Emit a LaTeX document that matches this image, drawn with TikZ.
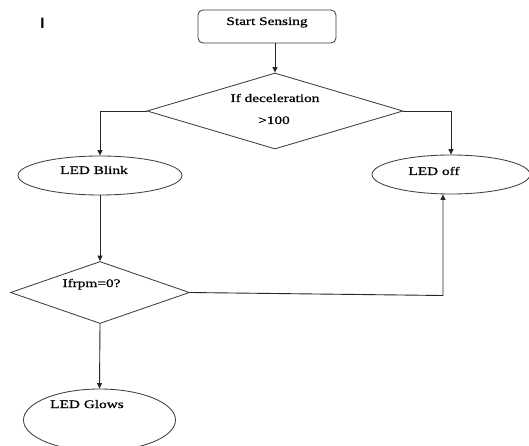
\documentclass[tikz,border=0pt]{standalone}
\usepackage{fontspec}
\setmainfont[FakeStretch=1.33,FakeBold=0.8]{Liberation Serif}
\newfontfamily\markfont{Liberation Sans}
\usetikzlibrary{shapes.geometric,arrows.meta}
\begin{document}
\begin{tikzpicture}[x=1pt,y=-1pt,
  shapeline/.style={draw=black!75,line width=0.85pt,inner sep=0pt},
  startbox/.style={shapeline,rectangle,rounded corners=5pt,minimum width=138pt,minimum height=33pt},
  decision/.style={shapeline,diamond},
  oval/.style={shapeline,ellipse},
  txt/.style={anchor=base,inner sep=0pt,font=\fontsize{11.5}{13}\selectfont},
  arr/.style={draw=black!85,line width=0.9pt,-{Triangle[length=5.5pt,width=5pt]}}]
\useasboundingbox (0,0) rectangle (529,446);
\fill[white] (0,0) rectangle (529,446);

\node[anchor=base,inner sep=0pt,font=\markfont\bfseries\fontsize{15}{15}\selectfont] (mark) at (42.5,29) {I};

\node[startbox] (start) at (267,26.5) {};
\node[txt] (starttxt) at (267,25) {Start Sensing};

\node[decision,minimum width=256pt,minimum height=76pt] (d1) at (275,111) {};
\node[txt] (d1a) at (275,102) {If deceleration};
\node[txt] (d1b) at (274,124) {>100};

\node[oval,minimum width=164pt,minimum height=39pt] (lb) at (100,175.5) {};
\node[txt] (lbtxt) at (94,174) {LED Blink};

\node[oval,minimum width=158pt,minimum height=39pt] (lo) at (451,174.5) {};
\node[txt] (lotxt) at (434,175) {LED off};

\node[decision,minimum width=179pt,minimum height=62pt] (d2) at (100,292.5) {};
\node[txt] (d2txt) at (91.5,287) {Ifrpm=0?};

\node[oval,minimum width=152pt,minimum height=62pt] (lg) at (99.5,420) {};
\node[txt] (lgtxt) at (87,408) {LED Glows};

\coordinate (back) at (443,295.5);

\draw[arr] (start.south -| d1.north) -- (d1.north);
\draw[arr] (d1.west) -| (lb.north);
\draw[arr] (d1.east) -| (lo.north);
\draw[arr] (lb.south) -- (d2.north);
\draw[arr] (d2.south) -- (lg.north);
\draw[arr] (d2.east) -- (back) -- (back |- lo.south);
\end{tikzpicture}
\end{document}
